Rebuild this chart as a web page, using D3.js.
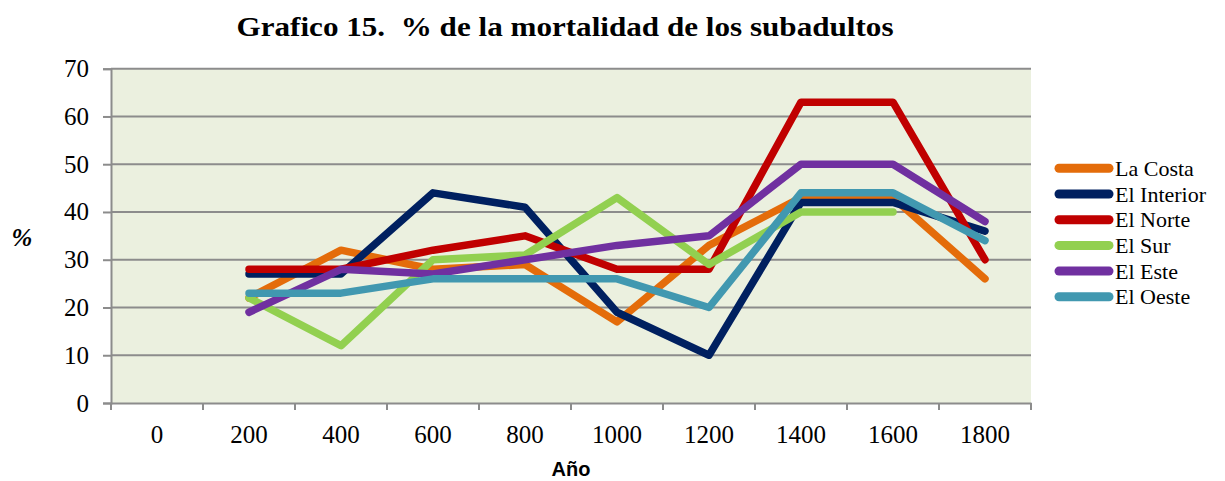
<!DOCTYPE html>
<html>
<head>
<meta charset="utf-8">
<script src="https://cdn.jsdelivr.net/npm/d3@7"></script>
<style>
  body { margin: 0; background: #fff; }
</style>
</head>
<body>
<div id="chart"></div>
<script>
const years = ["0", "200", "400", "600", "800", "1000", "1200", "1400", "1600", "1800"];
const la_costa = [null, 22, 32, 28, 29, 17, 33, 43, 43, 26];
const el_interior = [null, 27, 27, 44, 41, 19, 10, 42, 42, 36];
const el_norte = [null, 28, 28, 32, 35, 28, 28, 63, 63, 30];
const el_sur = [null, 22, 12, 30, 31, 43, 29, 40, 40, null];
const el_este = [null, 19, 28, 27, 30, 33, 35, 50, 50, 38];
const el_oeste = [null, 23, 23, 26, 26, 26, 20, 44, 44, 34];
const y_ticks = [0, 10, 20, 30, 40, 50, 60, 70];

const series = [
  { name: "La Costa", values: la_costa, color: "#E46C0A" },
  { name: "El Interior", values: el_interior, color: "#002060" },
  { name: "El Norte", values: el_norte, color: "#C00000" },
  { name: "El Sur", values: el_sur, color: "#92D050" },
  { name: "El Este", values: el_este, color: "#7030A0" },
  { name: "El Oeste", values: el_oeste, color: "#4198B0" }
];

const width = 1225, height = 481;
const plot = { left: 111, right: 1031, top: 68.7, bottom: 403 };
const serif = "'Liberation Serif', 'Times New Roman', serif";

const svg = d3.select("#chart").append("svg")
  .attr("width", width)
  .attr("height", height);

let x_scale = d3.scaleBand()
  .domain(years)
  .range([plot.left, plot.right])
  .padding(0);
let y_scale = d3.scaleLinear()
  .domain([0, 70])
  .range([plot.bottom, plot.top]);

// plot background
svg.append("rect")
  .attr("x", plot.left)
  .attr("y", plot.top)
  .attr("width", plot.right - plot.left)
  .attr("height", plot.bottom - plot.top)
  .style("fill", "#EBF0DF");

// gridlines
svg.append("g").selectAll("line")
  .data(y_ticks.filter(d => d > 0))
  .join("line")
  .attr("x1", plot.left)
  .attr("x2", plot.right)
  .attr("y1", d => y_scale(d))
  .attr("y2", d => y_scale(d))
  .style("stroke", "#8C8C8C")
  .style("stroke-width", 2);

// y axis
let y_axis = svg.append("g")
  .attr("class", "axis y")
  .attr("transform", "translate(" + plot.left + ",0)")
  .call(d3.axisLeft(y_scale).tickValues(y_ticks).tickSize(8).tickPadding(14));
y_axis.select(".domain").style("stroke", "#8C8C8C").style("stroke-width", 2);
y_axis.selectAll(".tick line").style("stroke", "#8C8C8C").style("stroke-width", 2);
y_axis.selectAll("text")
  .style("font-family", serif)
  .style("font-size", "25px")
  .style("fill", "#000");

// x axis: labels centred in bands, ticks on band edges
let x_axis = svg.append("g")
  .attr("class", "axis x")
  .attr("transform", "translate(0," + plot.bottom + ")")
  .call(d3.axisBottom(x_scale).tickSize(0).tickPadding(22));
x_axis.select(".domain").style("stroke", "#8C8C8C").style("stroke-width", 2);
x_axis.selectAll("text")
  .style("font-family", serif)
  .style("font-size", "25px")
  .style("fill", "#000");
x_axis.selectAll("line.edge")
  .data(years.map(d => x_scale(d)).concat([plot.right]))
  .join("line")
  .attr("class", "edge")
  .attr("x1", d => d)
  .attr("x2", d => d)
  .attr("y1", 0)
  .attr("y2", 7)
  .style("stroke", "#8C8C8C")
  .style("stroke-width", 2);

// lines
const line = d3.line()
  .defined(d => d.v !== null)
  .x(d => x_scale(d.year) + x_scale.bandwidth() / 2)
  .y(d => y_scale(d.v));

svg.append("g").selectAll("path")
  .data(series)
  .join("path")
  .attr("d", s => line(s.values.map((v, i) => ({ year: years[i], v: v }))))
  .style("fill", "none")
  .style("stroke", s => s.color)
  .style("stroke-width", 7.5)
  .style("stroke-linecap", "round")
  .style("stroke-linejoin", "round");

// legend
let legend = svg.append("g")
  .selectAll("g")
  .data(series)
  .join("g")
  .attr("transform", (s, i) => "translate(0," + (168.3 + i * 25.7) + ")");
legend.append("line")
  .attr("x1", 1059)
  .attr("x2", 1109)
  .style("stroke", s => s.color)
  .style("stroke-width", 9)
  .style("stroke-linecap", "round");
legend.append("text")
  .attr("x", 1115)
  .attr("y", 7.5)
  .text(s => s.name)
  .style("font-family", serif)
  .style("font-size", "22px")
  .style("fill", "#000");

// title and axis labels
svg.append("text")
  .attr("x", 565)
  .attr("y", 36)
  .attr("text-anchor", "middle")
  .attr("textLength", 657)
  .attr("lengthAdjust", "spacingAndGlyphs")
  .text("Grafico 15.  % de la mortalidad de los subadultos")
  .style("font-family", serif)
  .style("font-weight", "bold")
  .style("font-size", "28px")
  .style("white-space", "pre");

svg.append("text")
  .attr("x", 22)
  .attr("y", 246)
  .attr("text-anchor", "middle")
  .text("%")
  .style("font-family", serif)
  .style("font-weight", "bold")
  .style("font-style", "italic")
  .style("font-size", "25px");

svg.append("text")
  .attr("x", 571)
  .attr("y", 476)
  .attr("text-anchor", "middle")
  .text("Año")
  .style("font-family", "'Liberation Sans', Arial, sans-serif")
  .style("font-weight", "bold")
  .style("font-size", "20px");
</script>
</body>
</html>
